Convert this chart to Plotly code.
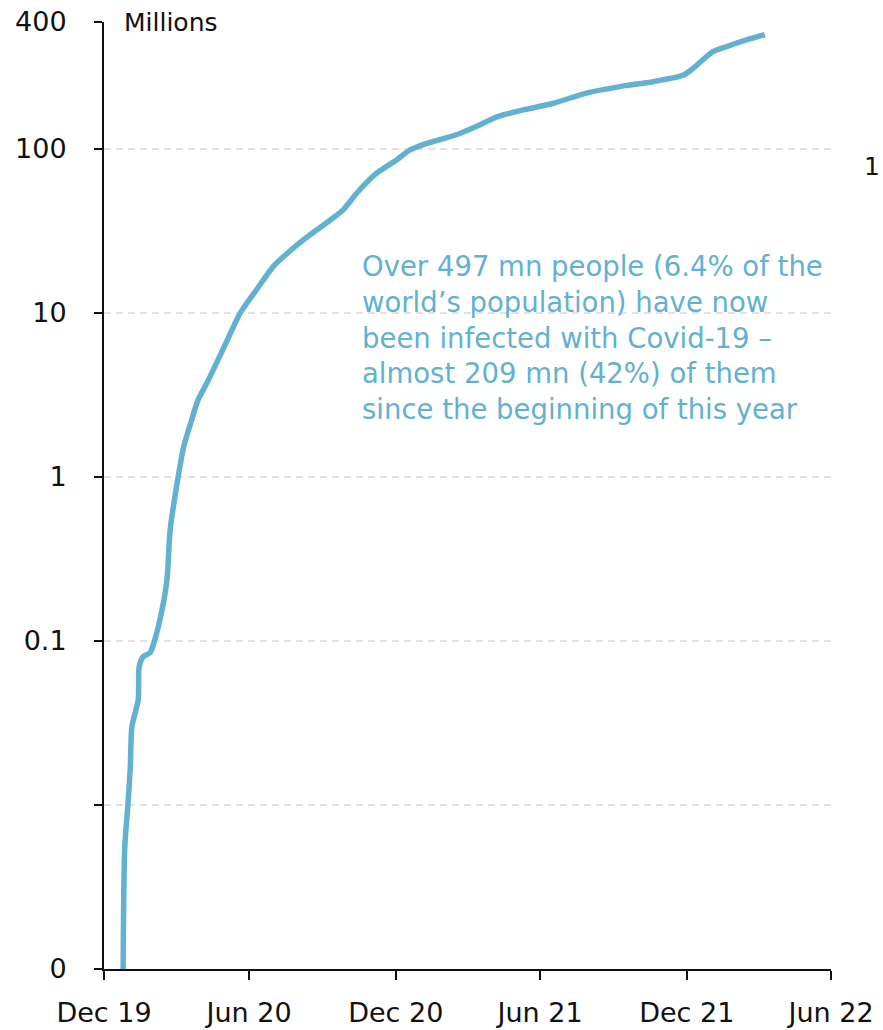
import plotly.graph_objects as go

# Cumulative confirmed Covid-19 cases worldwide, millions
dates = [
    "2020-01-24", "2020-01-26", "2020-01-30", "2020-02-02", "2020-02-04",
    "2020-02-12", "2020-02-13", "2020-02-18", "2020-02-27", "2020-03-03",
    "2020-03-12", "2020-03-19", "2020-03-23", "2020-04-02", "2020-04-09",
    "2020-04-19", "2020-04-27", "2020-05-10", "2020-05-31", "2020-06-19",
    "2020-07-10", "2020-07-30", "2020-08-12", "2020-09-06", "2020-10-10",
    "2020-10-26", "2020-11-12", "2020-12-07", "2021-01-01", "2021-01-18",
    "2021-02-08", "2021-03-17", "2021-04-11", "2021-05-07", "2021-06-09",
    "2021-07-17", "2021-08-27", "2021-10-08", "2021-11-19", "2021-12-27",
    "2022-01-08", "2022-02-02", "2022-02-19", "2022-03-16", "2022-04-08",
]
cases_mn = [
    0.001, 0.0055, 0.010, 0.017, 0.030,
    0.044, 0.069, 0.080, 0.085, 0.099,
    0.148, 0.236, 0.475, 1.0, 1.53,
    2.23, 2.95, 3.9, 6.4, 10.0,
    14.0, 19.1, 22.0, 27.9, 36.9,
    42.5, 53.7, 71.1, 85.7, 98.6,
    108, 122, 137, 157, 173,
    190, 219, 240, 257, 282,
    310, 392, 421, 462, 497,
]

# Axis ticks
x_ticks = ["2019-12-31", "2020-06-30", "2020-12-31", "2021-06-30", "2021-12-31", "2022-06-30"]
x_labels = ["Dec 19", "Jun 20", "Dec 20", "Jun 21", "Dec 21", "Jun 22"]
y_top = 10 ** 2.774
y_ticks = [0.001, 0.01, 0.1, 1, 10, 100, y_top]
y_labels = ["0", "", "0.1", "1", "10", "100", "400"]
grid_vals = [0.01, 0.1, 1, 10, 100]

note = ("Over 497 mn people (6.4% of the<br>world\u2019s population) have now<br>"
        "been infected with Covid-19 \u2013<br>almost 209 mn (42%) of them<br>"
        "since the beginning of this year")

FONT = "DejaVu Sans"
BLUE = "#62B1D0"
INK = "#111111"

fig = go.Figure()
fig.add_trace(go.Scatter(
    x=dates, y=cases_mn, mode="lines",
    line=dict(color=BLUE, width=5.5, shape="spline", smoothing=0.7),
    showlegend=False, hoverinfo="skip",
))

for v in grid_vals:
    fig.add_shape(type="line", xref="paper", x0=0, x1=1, yref="y", y0=v, y1=v,
                  line=dict(color="#d9d9d9", width=1.5, dash="7px,5px"), layer="below")

fig.add_annotation(text="Millions", xref="paper", yref="paper", x=(122 - 104) / 727, y=1.0,
                   xanchor="left", yanchor="middle", showarrow=False,
                   font=dict(family=FONT, size=25, color=INK))
fig.add_annotation(text=note, xref="paper", yref="paper", x=(360 - 104) / 727, y=(969 - 248) / 947,
                   xanchor="left", yanchor="top", align="left", showarrow=False,
                   font=dict(family=FONT, size=27.5, color=BLUE))
fig.add_annotation(text="1", xref="paper", yref="paper", x=(882 - 104) / 727, y=(969 - 166) / 947,
                   xanchor="right", yanchor="middle", showarrow=False,
                   font=dict(family=FONT, size=25, color=INK))

fig.update_layout(
    width=883, height=1030,
    margin=dict(l=104, r=52, t=22, b=61),
    paper_bgcolor="white", plot_bgcolor="white",
    font=dict(family=FONT, size=27, color=INK),
    xaxis=dict(
        type="date", range=["2019-12-31", "2022-06-30"],
        tickvals=x_ticks, ticktext=x_labels,
        showgrid=False, zeroline=False, automargin=False,
        showline=True, linecolor=INK, linewidth=2,
        ticks="outside", ticklen=9, tickwidth=2, tickcolor=INK,
        ticklabelstandoff=10,
    ),
    yaxis=dict(
        type="log", range=[-3, 2.774],
        tickvals=y_ticks, ticktext=y_labels,
        showgrid=False, zeroline=False, automargin=False,
        showline=True, linecolor=INK, linewidth=2,
        ticks="outside", ticklen=8, tickwidth=2, tickcolor=INK,
        ticklabelstandoff=22,
    ),
)

fig.write_html("out.html")
